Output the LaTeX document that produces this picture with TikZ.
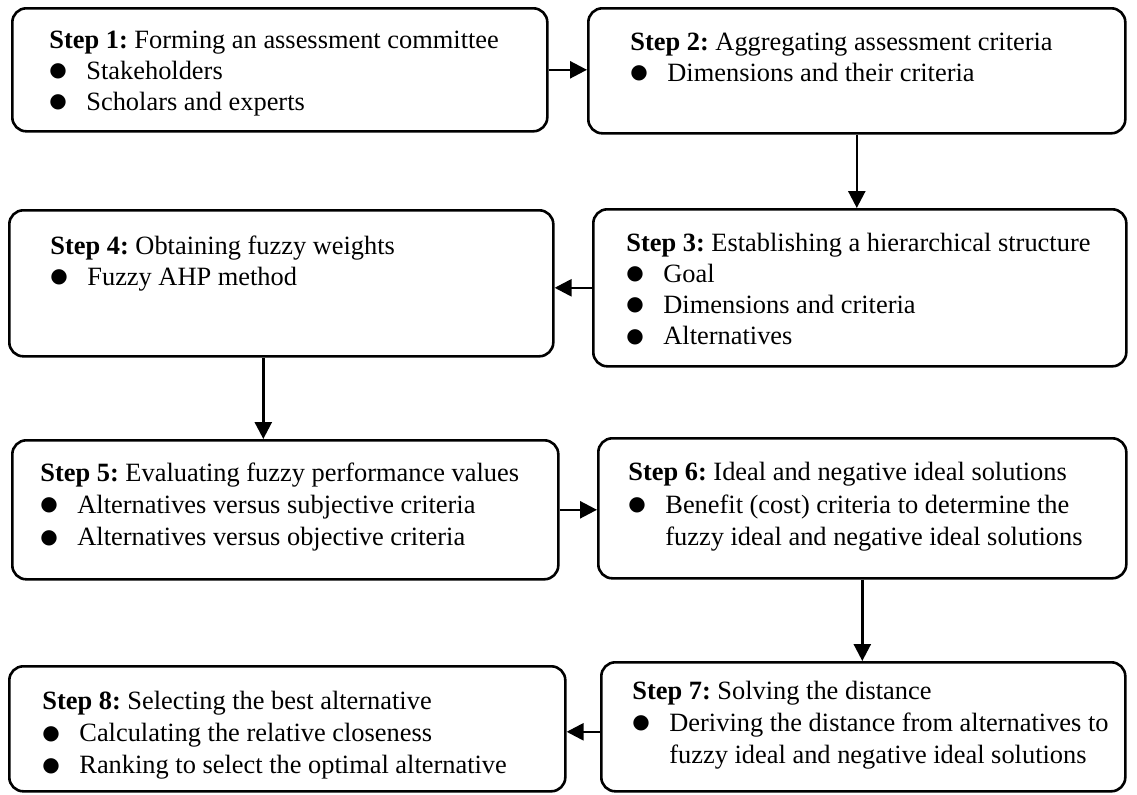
\documentclass[tikz,border=0pt]{standalone}
\usepackage{fontspec}
\setmainfont{Liberation Serif}
\newfontfamily\bulfont{DejaVu Sans}
\usetikzlibrary{arrows.meta}
\frenchspacing
\newcommand{\itm}[1]{\makebox[18.5pt][l]{\raisebox{1.4pt}{\bulfont\fontsize{10pt}{10pt}\selectfont ●}}#1}
\newcommand{\cont}[1]{\hspace*{18.5pt}#1}
\tikzset{
  stepbox/.style={draw=black, line width=1.3pt, rounded corners=7pt, fill=white,
    inner sep=0pt, anchor=north west},
  steptext/.style={anchor=north west, inner sep=0pt, align=left,
    font=\fontsize{13.2pt}{15.6pt}\selectfont},
  arr/.style={line width=1.3pt, -{Triangle[length=8.5pt,width=8.5pt]}}
}
\begin{document}
\begin{tikzpicture}[x=0.5pt,y=-0.5pt]
\useasboundingbox (0,0) rectangle (1137,794);
% boxes
\node[stepbox, minimum width=535pt/2, minimum height=123pt/2] (b1) at (11,7) {};
\node[stepbox, minimum width=537pt/2, minimum height=125pt/2] (b2) at (587,7) {};
\node[stepbox, minimum width=533pt/2, minimum height=157pt/2] (b3) at (592,208) {};
\node[stepbox, minimum width=544pt/2, minimum height=146pt/2] (b4) at (8,209) {};
\node[stepbox, minimum width=546pt/2, minimum height=139pt/2] (b5) at (11,439) {};
\node[stepbox, minimum width=528pt/2, minimum height=140pt/2] (b6) at (597,437) {};
\node[stepbox, minimum width=524pt/2, minimum height=129pt/2] (b7) at (600,661) {};
\node[stepbox, minimum width=556pt/2, minimum height=125pt/2] (b8) at (8,665) {};
% texts
\node[steptext] (t1) at (49,26) {\strut\textbf{Step 1:} Forming an assessment committee\\
  \itm{Stakeholders}\\ \itm{Scholars and experts}};
\node[steptext] (t2) at (630,28) {\strut\textbf{Step 2:} Aggregating assessment criteria\\
  \itm{Dimensions and their criteria}};
\node[steptext] (t3) at (626,229) {\strut\textbf{Step 3:} Establishing a hierarchical structure\\
  \itm{Goal}\\ \itm{Dimensions and criteria}\\ \itm{Alternatives}};
\node[steptext] (t4) at (50,232) {\strut\textbf{Step 4:} Obtaining fuzzy weights\\
  \itm{Fuzzy AHP method}};
\node[steptext, font=\fontsize{13.2pt}{16.2pt}\selectfont] (t5) at (40,458) {\strut\textbf{Step 5:} Evaluating fuzzy performance values\\
  \itm{Alternatives versus subjective criteria}\\ \itm{Alternatives versus objective criteria}};
\node[steptext, font=\fontsize{13.2pt}{16.4pt}\selectfont] (t6) at (628,457) {\strut\textbf{Step 6:} Ideal and negative ideal solutions\\
  \itm{Benefit (cost) criteria to determine the}\\ \cont{fuzzy ideal and negative ideal solutions}};
\node[steptext, font=\fontsize{13.2pt}{16.2pt}\selectfont] (t7) at (632,676) {\strut\textbf{Step 7:} Solving the distance\\
  \itm{Deriving the distance from alternatives to}\\ \cont{fuzzy ideal and negative ideal solutions}};
\node[steptext, font=\fontsize{13.2pt}{16pt}\selectfont] (t8) at (42,687) {\strut\textbf{Step 8:} Selecting the best alternative\\
  \itm{Calculating the relative closeness}\\ \itm{Ranking to select the optimal alternative}};
% arrows
\draw[arr] (b1.east) -- (b1.east -| b2.west);
\draw[arr] (b2.south) -- (b2.south |- b3.north);
\draw[arr] (b3.west) -- (b3.west -| b4.east);
\draw[arr] ([xshift=-9pt]b4.south) -- ([xshift=-9pt]b4.south |- b5.north);
\draw[arr] (b5.east) -- (b5.east -| b6.west);
\draw[arr] (b6.south) -- (b6.south |- b7.north);
\draw[arr] ([yshift=-2.5pt]b7.west) -- ([yshift=-2.5pt]b7.west -| b8.east);
\end{tikzpicture}
\end{document}
